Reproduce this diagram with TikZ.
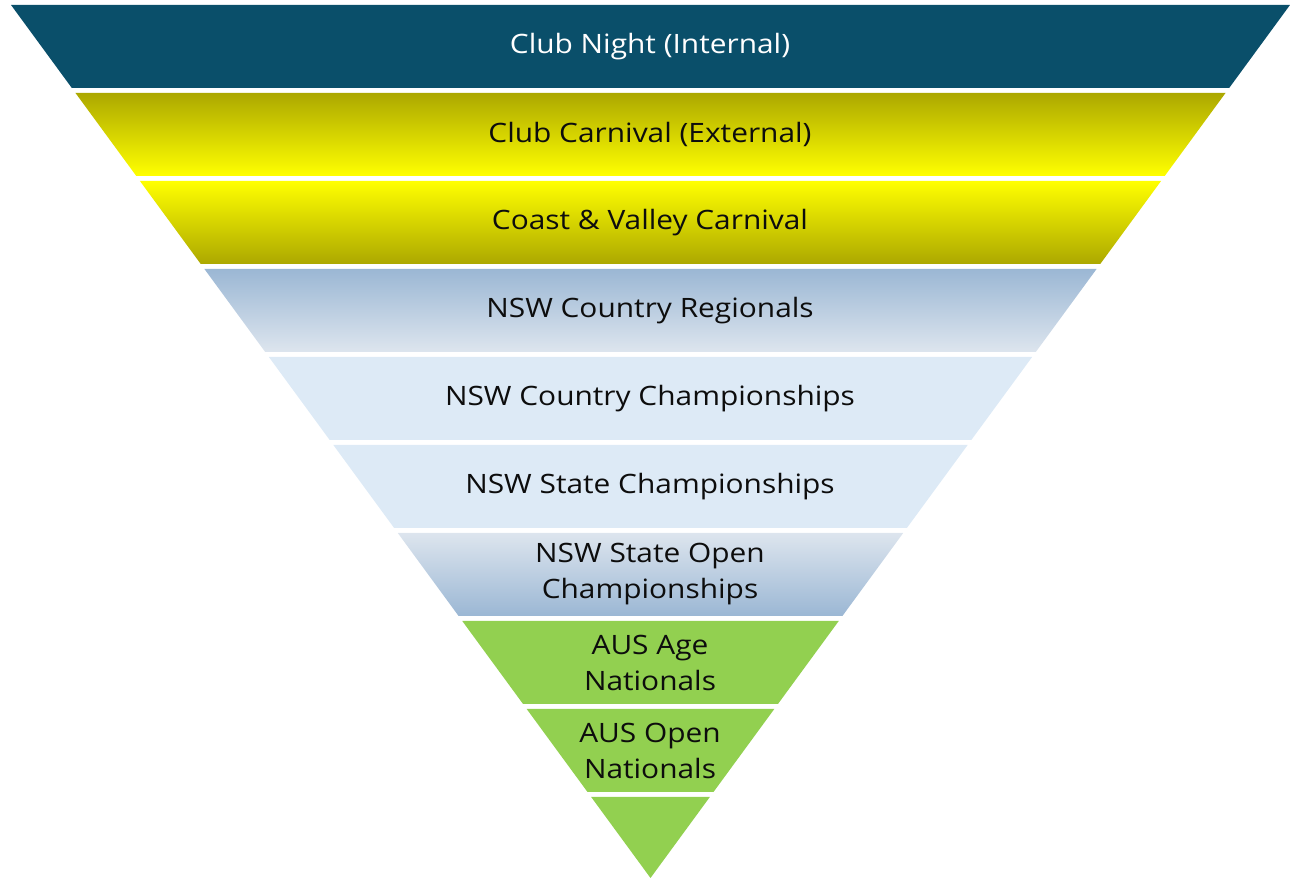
\documentclass[tikz,border=0pt]{standalone}
\usepackage{fontspec}
\setmainfont{Open Sans}[FakeStretch=1.12]
\definecolor{navyband}{HTML}{0A4F6A}
\definecolor{oliveband}{HTML}{ACA800}
\definecolor{yellowmid}{HTML}{EDED00}
\definecolor{yellowband}{HTML}{FFFF00}
\definecolor{steelband}{HTML}{9BB7D4}
\definecolor{paleband}{HTML}{DDE5EE}
\definecolor{iceband}{HTML}{DDEAF6}
\definecolor{greenband}{HTML}{92D050}
\definecolor{labelink}{HTML}{0D0D0D}
% #1 options, #2 top y, #3 bottom y (y upwards, apex at y=7)
\newcommand\bandshape[3]{\path[#1]
  ({650.5-0.7325*(#2-7)},#2) -- ({650.5+0.7325*(#2-7)},#2) --
  ({650.5+0.7325*(#3-7)},#3) -- ({650.5-0.7325*(#3-7)},#3) -- cycle;}
\begin{document}
\begin{tikzpicture}[x=0.75pt,y=0.75pt,
  lbl/.style={font=\fontsize{20}{27}\selectfont, text=labelink, align=center, inner sep=0pt},
  lblw/.style={lbl, text=white}]
\useasboundingbox (0,0) rectangle (1300,885);
\bandshape{fill=navyband}{880}{797}
\bandshape{top color=oliveband, middle color=yellowmid, bottom color=yellowband}{792}{709}
\bandshape{top color=yellowband, middle color=yellowmid, bottom color=oliveband}{704}{621}
\bandshape{top color=steelband, bottom color=paleband}{616}{533}
\bandshape{fill=iceband}{528}{445}
\bandshape{fill=iceband}{440}{357}
\bandshape{top color=paleband, bottom color=steelband}{352}{269}
\bandshape{fill=greenband}{264}{181}
\bandshape{fill=greenband}{176}{93}
\bandshape{fill=greenband}{88}{7}
\node[lblw] (n1) at (650,838.5) {Club Night (Internal)};
\node[lbl] (n2) at (650,750.5) {Club Carnival (External)};
\node[lbl] (n3) at (650,662.5) {Coast \& Valley Carnival};
\node[lbl] (n4) at (650,574.5) {NSW Country Regionals};
\node[lbl] (n5) at (650,486.5) {NSW Country Championships};
\node[lbl] (n6) at (650,398.5) {NSW State Championships};
\node[lbl] (n7) at (650,310.5) {NSW State Open\\Championships};
\node[lbl] (n8) at (650,222.5) {AUS Age\\Nationals};
\node[lbl] (n9) at (650,134.5) {AUS Open\\Nationals};
\end{tikzpicture}
\end{document}
